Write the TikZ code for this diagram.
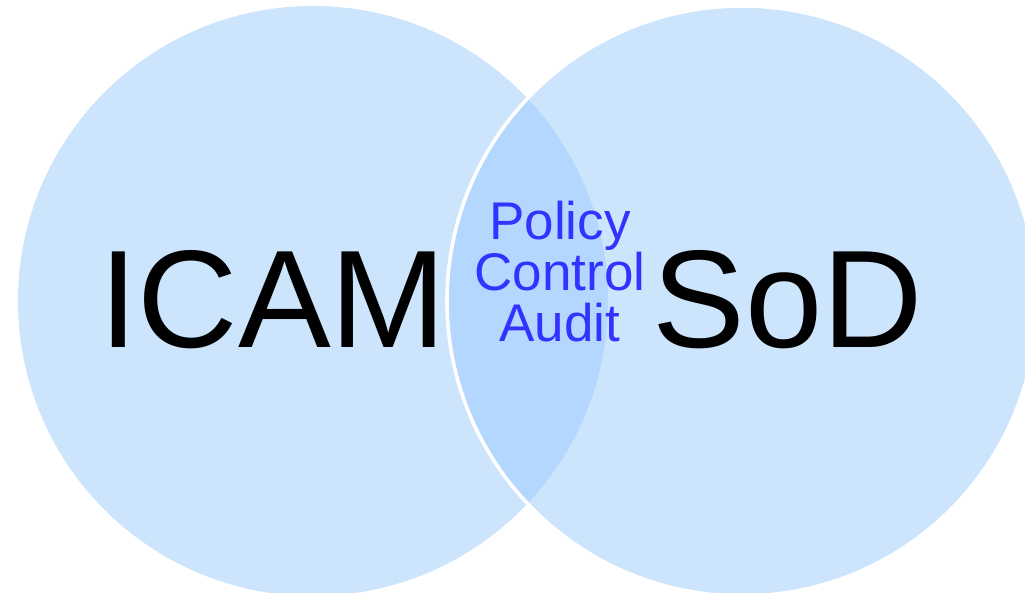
\documentclass[tikz,border=0pt]{standalone}
\usepackage{fontspec}
\setmainfont{Liberation Sans}
\definecolor{setfill}{HTML}{CCE4FC}
\definecolor{bothfill}{HTML}{B3D7FE}
\definecolor{sharedtext}{HTML}{3333FF}

\begin{document}
\begin{tikzpicture}[x=0.5pt,y=-0.5pt,
  set/.style={circle,fill=setfill,minimum size=295pt,inner sep=0pt},
  big/.style={font=\fontsize{69.5}{80}\selectfont,anchor=base},
  shared/.style={text=sharedtext,align=center,font=\fontsize{26.5}{25.5}\selectfont}]
  \useasboundingbox (0,0) rectangle (1025,593);
  \node[set] (icam) at (313,301) {};
  \node[set] (sod)  at (742,301) {};
  % overlap of the two sets
  \begin{scope}
    \clip (icam.center) circle (147.5pt);
    \fill[bothfill] (sod.center) circle (147.5pt);
  \end{scope}
  \draw[white,line width=1.8pt] (sod.center) circle (147.5pt);
  \node[big] (icamlabel) at (273,348) {ICAM};
  \node[big] (sodlabel)  at (788,348) {SoD};
  \node[shared] (common) at (560,272) {Policy\\Control\\Audit};
\end{tikzpicture}
\end{document}
